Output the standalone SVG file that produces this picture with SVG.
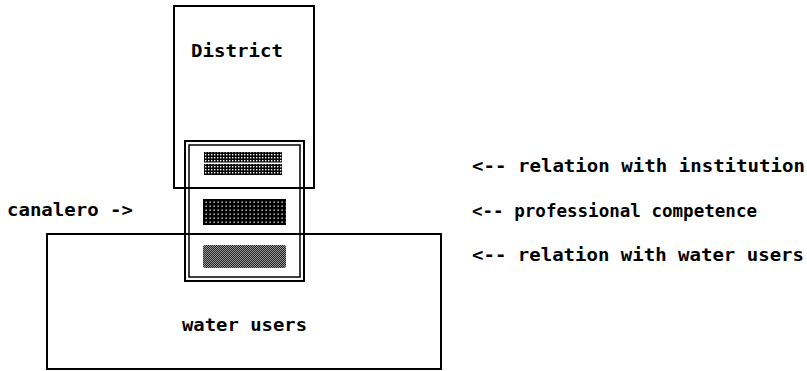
<svg xmlns="http://www.w3.org/2000/svg" width="807" height="371" viewBox="0 0 807 371">
<style>
.box{fill:none;stroke:#000;stroke-width:2}
.thin{fill:none;stroke:#000;stroke-width:1.5}
.t{font-family:"DejaVu Sans Mono","Liberation Mono",monospace;font-weight:bold;font-size:17px;fill:#000}
</style>
<defs>
<pattern id="p1" width="3" height="3" patternUnits="userSpaceOnUse">
<rect width="3" height="3" fill="#000"/><rect x="1" y="1" width="1.4" height="1.4" fill="#fff"/>
</pattern>
<pattern id="p2" width="4" height="4" patternUnits="userSpaceOnUse">
<rect width="4" height="4" fill="#000"/><rect x="1.5" y="1.5" width="1.3" height="1.3" fill="#fff"/>
</pattern>
<pattern id="p3" width="2" height="2" patternUnits="userSpaceOnUse">
<rect width="2" height="2" fill="#222"/><rect width="1" height="1" fill="#999"/><rect x="1" y="1" width="1" height="1" fill="#999"/>
</pattern>
</defs>
<rect width="807" height="371" fill="#fff"/>
<g id="district">
<rect class="box" x="174" y="6" width="140" height="182"/>
<text class="t" x="191" y="57" textLength="92" lengthAdjust="spacingAndGlyphs">District</text>
</g>
<g id="water-users">
<rect class="box" x="47" y="234" width="394" height="135"/>
<text class="t" x="182" y="331" textLength="125" lengthAdjust="spacingAndGlyphs">water users</text>
</g>
<g id="canalero">
<rect class="box" x="185" y="141" width="119" height="140"/>
<rect class="thin" x="189" y="145" width="111" height="132"/>
<rect x="204" y="152" width="78" height="23" fill="url(#p1)"/>
<rect x="204" y="162.5" width="78" height="1.5" fill="#fff"/>
<rect x="203" y="199" width="83" height="26" fill="url(#p2)"/>
<rect x="203" y="245" width="83" height="23" rx="2" fill="url(#p3)"/>
<text class="t" x="7" y="216" textLength="126" lengthAdjust="spacingAndGlyphs">canalero -&gt;</text>
</g>
<g id="labels">
<text class="t" x="472" y="172" textLength="333" lengthAdjust="spacingAndGlyphs">&lt;-- relation with institution</text>
<text class="t" x="472" y="217" textLength="285" lengthAdjust="spacingAndGlyphs">&lt;-- professional competence</text>
<text class="t" x="472" y="261" textLength="332" lengthAdjust="spacingAndGlyphs">&lt;-- relation with water users</text>
</g>
<g id="connectors"></g>
</svg>
